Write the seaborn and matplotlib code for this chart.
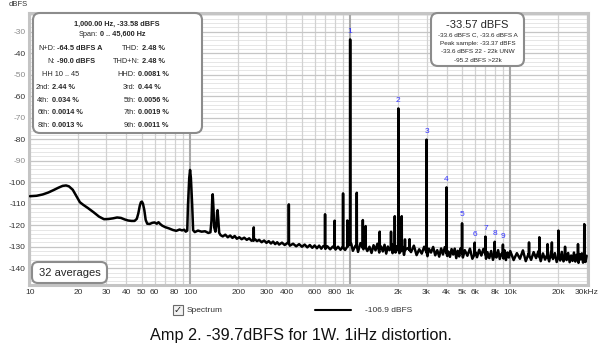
import numpy as np
import pandas as pd
import matplotlib
matplotlib.use("Agg")
import matplotlib.pyplot as plt
import seaborn as sns
from matplotlib.patches import FancyBboxPatch, Rectangle
from matplotlib.lines import Line2D
from matplotlib.transforms import IdentityTransform

# ---------------- data ----------------
# low-frequency part of the spectrum (smooth, incl. broad hum peaks)
lf_freq = [10, 11, 12, 13, 14, 15, 16, 16.8, 17.5, 18.5, 19.5, 20.5, 21.5, 23, 25, 27, 29, 31, 33, 35,
           37, 39, 41, 43, 45, 46.5, 47.5, 48.5, 49.3, 50, 50.8, 51.8, 52.8, 54, 56, 58, 60, 62, 63.5, 65,
           67, 70, 74, 78, 82, 86, 89, 92, 94, 96, 97, 98.8, 100, 101.2, 103, 104.5, 107, 112, 118, 124,
           130, 134, 136, 137.5, 138.5, 140, 141.5, 144, 146, 147.5, 148.5, 150, 152, 155, 160, 166, 172,
           178, 184, 190, 196, 203, 210, 218, 226, 234, 242]
lf_db = [-106.5, -106.3, -105.7, -104.8, -103.7, -102.6, -101.7, -101.5, -101.9, -103.5, -106.5, -109.3,
         -110.5, -112.0, -114.0, -116.0, -117.2, -117.1, -116.8, -116.4, -116.6, -117.3, -117.8, -118.0,
         -118.0, -117.0, -114.5, -111.0, -109.3, -109.0, -110.0, -113.0, -117.5, -119.3, -119.4, -118.9,
         -118.7, -119.3, -118.6, -119.4, -120.2, -120.9, -121.5, -122.2, -122.6, -122.0, -122.4, -122.1,
         -123.0, -122.5, -111.0, -98.0, -94.3, -98.0, -110.0, -122.3, -123.2, -122.5, -123.0, -122.8,
         -123.6, -123.3, -118.0, -108.0, -105.6, -112.0, -121.0, -123.0, -120.0, -114.0, -113.0, -117.0,
         -123.5, -124.6, -125.2, -124.4, -125.6, -124.8, -125.9, -125.0, -126.3, -125.6, -126.5, -125.8,
         -126.8, -126.1, -127.2]

# mid-band noise floor
mf_freq = [255, 262, 270, 280, 290, 300, 310, 320, 330, 340, 350, 360, 375, 390, 405, 420, 440, 460, 480,
           500, 520, 540, 560, 580, 600, 620, 640, 660, 680, 700, 720, 750, 780, 810, 840, 870, 900, 930,
           960, 985]
mf_db = [-126.6, -127.4, -126.8, -127.9, -127.1, -128.2, -127.4, -128.5, -127.6, -128.8, -127.9, -129.0,
         -128.1, -129.2, -128.3, -129.5, -128.6, -129.8, -128.8, -130.0, -129.0, -130.3, -129.2, -130.5,
         -129.4, -130.7, -129.5, -130.9, -129.7, -131.0, -129.8, -131.2, -129.9, -131.3, -130.0, -131.4,
         -130.1, -131.5, -129.5, -128.5]

# high-band noise floor
hf_freq = [1015, 1040, 1080, 1120, 1160, 1210, 1240, 1280, 1320, 1360, 1400, 1440, 1480, 1520, 1560, 1600,
           1640, 1680, 1720, 1760, 1820, 1840, 1880, 1920, 1960,
           2030, 2130, 2170, 2300, 2400, 2500, 2600, 2700, 2800, 2900, 3040, 3100, 3200, 3300, 3400, 3500,
           3600, 3700, 3800, 3900, 4040, 4100, 4200, 4300, 4400, 4500, 4600, 4700, 4800, 4900,
           5060, 5200, 5400, 5600, 5800, 6050, 6200, 6400, 6600, 6800, 7060, 7200, 7400, 7600, 7800, 8070,
           8200, 8400, 8600, 8800, 9080, 9200, 9400, 9600, 9800,
           10000, 10500, 11000, 11500, 12000, 12500, 13000, 13500, 14000, 14500, 15000, 15500, 16000, 16500,
           17000, 17500, 18000, 18500, 19000, 19500, 20250, 20500, 21000, 21500, 22250, 22500, 23000, 23500,
           24000, 24500, 25000, 25500, 26000, 26700, 27000, 27500, 28000, 28500, 29200, 29500, 30000]
hf_db = [-128.5, -131.9, -129.5, -132.4, -128.3, -131.2, -128.0, -132.0, -130.0, -132.9, -129.3, -131.7,
         -128.6, -132.7, -129.9, -132.2, -129.1, -133.2, -129.9, -131.6, -128.8, -133.0, -130.8, -132.7,
         -129.8,
         -133.0, -130.1, -133.8, -130.6, -132.5, -129.5, -133.9, -131.2, -133.2, -130.0, -134.4, -130.9,
         -132.7, -130.1, -134.0, -131.6, -134.6, -130.8, -133.6, -130.2, -134.3, -132.2, -134.7, -131.1,
         -133.6, -130.9, -135.3, -131.9, -134.5, -130.7,
         -135.0, -131.6, -134.2, -130.9, -135.6, -132.5, -134.9, -131.4, -134.1, -131.0, -135.6, -132.5,
         -135.3, -132.0, -136.1, -132.7, -135.0, -131.6, -135.7, -133.3, -135.5, -131.6, -136.2, -132.7,
         -135.0,
         -132.0, -136.2, -133.0, -135.6, -131.7, -136.7, -133.4, -136.1, -132.5, -135.3, -132.1, -136.7,
         -133.1, -136.0, -133.8, -136.8, -132.4, -135.7, -133.0, -137.1, -133.7, -136.4, -132.4, -136.8,
         -133.7, -136.2, -132.9, -137.2, -134.1, -136.6, -132.7, -136.9, -133.8, -137.5, -133.4, -135.9,
         -133.1, -137.4, -133.7, -137.1, -134.2]

# harmonics (fundamental = 1 kHz): peak level and the floor level at their foot
harm_num = ["1", "2", "3", "4", "5", "6", "7", "8", "9"]
harm_freq = [1000, 2000, 3000, 4000, 5000, 6000, 7000, 8000, 9000]
harm_db = [-33.6, -65.7, -80.2, -102.4, -119.1, -128.1, -125.3, -127.7, -129.0]
harm_base = [-129.0, -131.5, -132.5, -133.0, -133.0, -133.5, -133.5, -133.5, -134.0]

# other spurious tones
spur_freq = [250, 414, 697, 800, 903, 960, 1100, 1200, 1250, 1530, 1800, 1900, 2100, 2200, 2350,
             13100, 15200, 17100, 18200, 20000, 22000, 26500, 29000]
spur_db = [-121.0, -110.3, -114.9, -117.9, -105.2, -117.8, -104.9, -117.6, -120.4, -123.0, -123.0, -115.8,
           -115.8, -126.6, -126.5, -128.0, -125.6, -128.8, -128.0, -122.5, -130.0, -128.8, -119.5]
spur_base = [-127.0, -128.5, -130.0, -130.5, -130.5, -130.0, -130.0, -130.5, -130.5, -131.0, -131.0,
             -131.0, -131.5, -131.5, -131.5, -134.0, -134.5, -134.5, -134.5, -134.5, -135.0, -135.0, -135.0]

xtick_pos = [10, 20, 30, 40, 50, 60, 80, 100, 200, 300, 400, 600, 800, 1000, 2000, 3000, 4000, 5000,
             6000, 8000, 10000, 20000, 30000]
xtick_lab = ["10", "20", "30", "40", "50", "60", "80", "100", "200", "300", "400", "600", "800", "1k",
             "2k", "3k", "4k", "5k", "6k", "8k", "10k", "20k", "30kHz"]
ytick_pos = [-30, -40, -50, -60, -70, -80, -90, -100, -110, -120, -130, -140]

# ---------------- figure ----------------
sns.set_theme(style="white")
plt.rcParams["font.family"] = ["Liberation Sans", "DejaVu Sans"]

W, H = 602, 348
fig = plt.figure(figsize=(W / 100, H / 100), dpi=100)
fig.patch.set_facecolor("white")
ax = fig.add_axes([29 / W, 1 - 285 / H, (588 - 29) / W, (285 - 13) / H])
ax.set_facecolor("white")

# spikes: foot - top - foot, very narrow
pk_f = harm_freq + spur_freq
pk_d = harm_db + spur_db
pk_b = harm_base + spur_base
spike_f, spike_d = [], []
for f, d, b in zip(pk_f, pk_d, pk_b):
    spike_f += [f * 0.998, f, f * 1.002]
    spike_d += [b, d, b]

df = pd.DataFrame({
    "freq": lf_freq + mf_freq + hf_freq + spike_f,
    "dB": lf_db + mf_db + hf_db + spike_d,
}).sort_values("freq", kind="mergesort").reset_index(drop=True)

ax.set_xscale("log")
ax.set_xlim(9.86, 30600)
ax.set_ylim(-147.8, -21.3)

# grid
for k in [10, 100, 1000, 10000]:
    for m in range(1, 10):
        f = m * k
        if f > 30600:
            continue
        if m == 1:
            ax.axvline(f, color="#a8a8a8", lw=1.5, zorder=0.5)
        else:
            ax.axvline(f, color="#d2d2d2", lw=0.9, zorder=0.4)
for v in range(-146, -21, 2):
    if v % 10 == 0:
        ax.axhline(v, color="#c6c6c6", lw=0.9, zorder=0.4)
    else:
        ax.axhline(v, color="#e2e2e2", lw=0.6, zorder=0.3)

sns.lineplot(data=df, x="freq", y="dB", ax=ax, color="black", lw=1.8,
             estimator=None, sort=False, zorder=3)

for n, f, d in zip(harm_num, harm_freq, harm_db):
    ax.annotate(n, (f, d), xytext=(0, 3.5), textcoords="offset points", ha="center",
                va="bottom", fontsize=6, color="#3030ff", zorder=4)

ax.set_xticks(xtick_pos)
ax.set_xticklabels(xtick_lab)
ax.xaxis.set_minor_locator(matplotlib.ticker.NullLocator())
ax.set_yticks(ytick_pos)
ax.set_yticklabels([str(v) for v in ytick_pos])
ax.tick_params(axis="both", length=0, labelsize=6, colors="#333333")
ax.tick_params(axis="x", pad=3)
ax.tick_params(axis="y", pad=2.5)
for lab, v in zip(ax.get_yticklabels(), ytick_pos):
    lab.set_color("#8a8a8a" if v in (-30, -50, -70, -90) else "#333333")
ax.set_xlabel("")
ax.set_ylabel("")
for s in ax.spines.values():
    s.set_color("#c4c4c4")
    s.set_linewidth(2.2)

T = IdentityTransform()


def txt(x, y, s, **kw):
    kw.setdefault("va", "center")
    fig.text(x, H - y, s, transform=T, **kw)


def rbox(x0, y0, x1, y1, r=7):
    p = FancyBboxPatch((x0, H - y1), x1 - x0, y1 - y0,
                       boxstyle="round,pad=0,rounding_size=%g" % r, transform=T,
                       fc="white", ec="#8c8c8c", lw=1.5, zorder=2)
    fig.add_artist(p)


# y unit label
txt(18, 5, "dBFS", ha="center", fontsize=5.5, color="#333333")

# top-left statistics box
rbox(33, 13, 202, 133)
fs = 5.3
txt(117, 24, "1,000.00 Hz, -33.58 dBFS", ha="center", fontsize=fs, fontweight="bold", zorder=5)
txt(97.5, 34.7, "Span:", ha="right", fontsize=fs, zorder=5)
txt(99.5, 34.7, "0 .. 45,600 Hz", ha="left", fontsize=fs, fontweight="bold", zorder=5)
rows_y = [48.7, 61.7, 74.3, 87.3, 100, 112.3, 125.3]
left_lab = ["N+D:", "N:", None, "2nd:", "4th:", "6th:", "8th:"]
left_val = ["-64.5 dBFS A", "-90.0 dBFS", None, "2.44 %", "0.034 %", "0.0014 %", "0.0013 %"]
right_lab = ["THD:", "THD+N:", "HHD:", "3rd:", "5th:", "7th:", "9th:"]
right_val = ["2.48 %", "2.48 %", "0.0081 %", "0.44 %", "0.0056 %", "0.0019 %", "0.0011 %"]
for i, y in enumerate(rows_y):
    if left_lab[i] is None:
        txt(60.5, y, "HH 10 .. 45", ha="center", fontsize=fs, zorder=5)
    else:
        lx = 55 if i < 2 else 49.5
        txt(lx, y, left_lab[i], ha="right", fontsize=fs, zorder=5)
        txt(lx + 2.2, y, left_val[i], ha="left", fontsize=fs, fontweight="bold", zorder=5)
    rx = 139.5 if i < 2 else 135.5
    txt(rx, y, right_lab[i], ha="right", fontsize=fs, zorder=5)
    txt(rx + 2.5, y, right_val[i], ha="left", fontsize=fs, fontweight="bold", zorder=5)

# top-right level box
rbox(431, 13, 524, 66)
txt(477.5, 25, "-33.57 dBFS", ha="center", fontsize=8, zorder=5)
small = ["-33.6 dBFS C, -33.6 dBFS A", "Peak sample: -33.37 dBFS",
         "-33.6 dBFS 22 - 22k UNW", "-95.2 dBFS >22k"]
for s, y in zip(small, [34.7, 43.3, 51.7, 60]):
    txt(477.5, y, s, ha="center", fontsize=4.6, zorder=5)

# averages box
rbox(32, 262, 107, 283, r=6)
txt(69.5, 272.5, "32 averages", ha="center", fontsize=8, zorder=5)

# legend
fig.add_artist(Rectangle((173, H - 315), 10, 10, transform=T, fc="#f2f2f2", ec="#6a6a6a", lw=0.8, zorder=2))
txt(178, 310, "\u2713", ha="center", fontsize=7, fontweight="bold", family=["DejaVu Sans"], zorder=5)
txt(187, 310, "Spectrum", ha="left", fontsize=6, color="#333333")
fig.add_artist(Line2D([315, 351], [H - 310, H - 310], transform=T, color="black", lw=1.5))
txt(365, 310, "-106.9 dBFS", ha="left", fontsize=6, color="#333333")

# caption
txt(301, 335.5, "Amp 2. -39.7dBFS for 1W. 1iHz distortion.", ha="center", fontsize=11.7, color="#111111")

fig.savefig("out.png", dpi=100, facecolor="white")
